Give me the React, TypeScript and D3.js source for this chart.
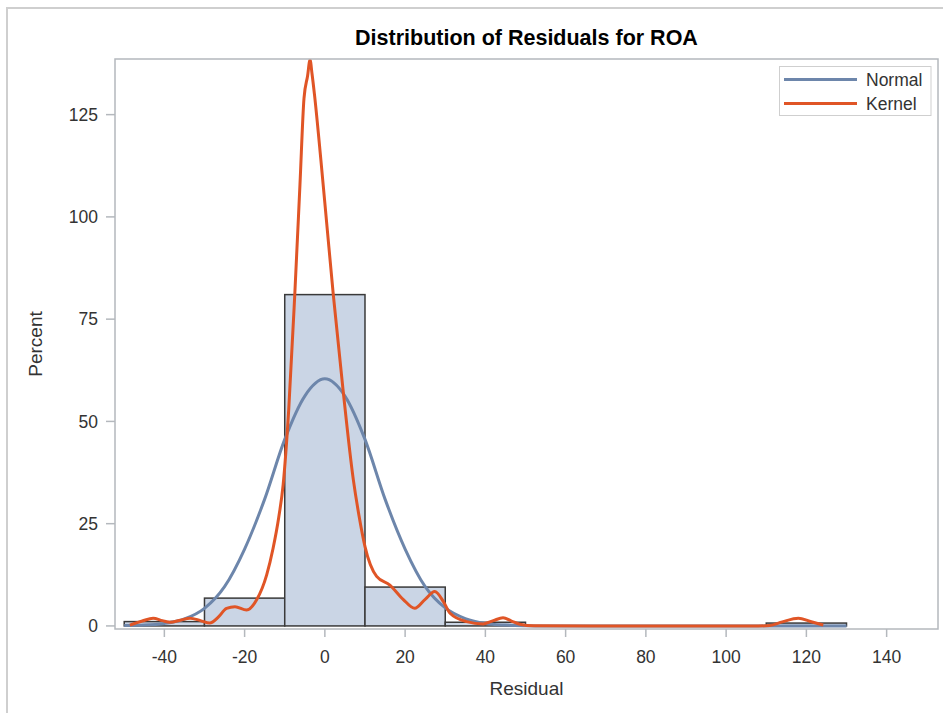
import React from "react";
import * as d3 from "d3";

// --- Data ---
const BIN_START = [-50, -30, -10, 10, 30, 110];
const BIN_WIDTH = 20;
const BIN_PERCENT = [1.06, 6.8, 81.0, 9.5, 0.9, 0.7];

const NORMAL_X = [-50, -45, -40, -35, -30, -25, -20, -15, -10, -5, 0, 5, 10, 15, 20, 25, 30, 35, 40, 45, 50, 55, 130];
const NORMAL_Y = [0.1, 0.2, 0.6, 1.7, 4.3, 9.6, 18.8, 31.0, 45.6, 56.2, 60.4, 56.2, 45.6, 31.0, 18.8, 9.6, 4.4, 1.8, 0.6, 0.2, 0.05, 0, 0];

const KERNEL_X = [-48.6, -45.5, -42.8, -40.5, -38.6, -36, -33.6, -31, -28.7, -26.5, -24.5, -22.4, -19.5, -17, -14.5, -12.9, -11.5, -10.4, -9, -7.5, -6.2, -5.2, -4.3, -3.7, -3.2, -2.6, -1, 0.5, 2.1, 4.5, 7.1, 8.5, 10, 12.9, 16.2, 19.5, 22.4, 25, 27.4, 29.5, 31.2, 35.3, 39.5, 42, 44.4, 46.5, 48.6, 52, 80, 108, 110.9, 114, 118, 121, 124.2];
const KERNEL_Y = [0.2, 1.2, 1.9, 1.3, 0.9, 1.4, 1.9, 1.3, 0.7, 2.2, 4.3, 4.7, 3.9, 6.4, 12.5, 19.0, 26.5, 34.5, 53, 81, 108, 129, 134.5, 138.4, 135, 130, 114, 98, 81, 58, 35.7, 27, 19.4, 12.1, 10, 6.5, 4.3, 6.5, 8.4, 6, 3.1, 1.05, 0.5, 1.3, 2.0, 1.2, 0.4, 0.02, 0, 0, 0.1, 1.0, 1.9, 1.1, 0.2];

const X_TICKS = [-40, -20, 0, 20, 40, 60, 80, 100, 120, 140];
const Y_TICKS = [0, 25, 50, 75, 100, 125];

const TITLE = "Distribution of Residuals for ROA";
const SERIES = ["Normal", "Kernel"];

// --- Layout ---
const W = 943;
const H = 713;
const LEFT = 115;
const RIGHT = 938;
const TOP = 59;
const BOTTOM = 629;
const FONT = "'Liberation Sans', Arial, sans-serif";
const AXIS_COLOR = "#b4b8bd";
const TEXT_COLOR = "#333";
const NORMAL_COLOR = "#6d86ab";
const KERNEL_COLOR = "#e05526";

export default function App() {
  const x = d3.scaleLinear().domain([-52.3, 152.8]).range([LEFT, RIGHT]);
  const y = d3.scaleLinear().domain([-0.75, 138.6]).range([BOTTOM, TOP]);

  const normalLine = d3
    .line<number>()
    .x((d, i) => x(NORMAL_X[i]))
    .y((d) => y(d))
    .curve(d3.curveMonotoneX);

  const kernelLine = d3
    .line<number>()
    .x((d, i) => x(KERNEL_X[i]))
    .y((d) => y(d))
    .curve(d3.curveMonotoneX);

  const colors = [NORMAL_COLOR, KERNEL_COLOR];

  return (
    <div style={{ position: "absolute", left: 0, top: 0 }}>
      <svg width={W} height={H} style={{ display: "block", background: "#fff" }}>
        {/* outer frame */}
        <rect x={7} y={8} width={W} height={H} fill="none" stroke="#cfcfcf" strokeWidth={2} />

        <text
          x={(LEFT + RIGHT) / 2}
          y={45}
          textAnchor="middle"
          fontFamily={FONT}
          fontWeight="bold"
          fontSize={21.5}
          fill="#000"
        >
          {TITLE}
        </text>

        <defs>
          <clipPath id="plot-clip">
            <rect x={LEFT} y={TOP} width={RIGHT - LEFT} height={BOTTOM - TOP} />
          </clipPath>
        </defs>

        {/* histogram */}
        <g>
          {BIN_START.map((b, i) => (
            <rect
              key={b}
              x={x(b)}
              y={y(BIN_PERCENT[i])}
              width={x(b + BIN_WIDTH) - x(b)}
              height={y(0) - y(BIN_PERCENT[i])}
              fill="#cad5e5"
              stroke="#3a3a3a"
              strokeWidth={1.5}
            />
          ))}
        </g>

        <g clipPath="url(#plot-clip)">
          <path d={normalLine(NORMAL_Y) || ""} fill="none" stroke={NORMAL_COLOR} strokeWidth={3} strokeLinejoin="round" />
          <path d={kernelLine(KERNEL_Y) || ""} fill="none" stroke={KERNEL_COLOR} strokeWidth={3} strokeLinejoin="round" />
        </g>

        {/* plot frame */}
        <rect x={LEFT} y={TOP} width={RIGHT - LEFT} height={BOTTOM - TOP} fill="none" stroke={AXIS_COLOR} strokeWidth={1.5} />

        {/* x axis */}
        <g fontFamily={FONT} fontSize={17.5} fill={TEXT_COLOR}>
          {X_TICKS.map((t) => (
            <g key={t}>
              <line x1={x(t)} x2={x(t)} y1={BOTTOM} y2={BOTTOM + 8} stroke={AXIS_COLOR} strokeWidth={1.5} />
              <text x={x(t)} y={663} textAnchor="middle">
                {t}
              </text>
            </g>
          ))}
        </g>
        <text x={(LEFT + RIGHT) / 2} y={695} textAnchor="middle" fontFamily={FONT} fontSize={19} fill={TEXT_COLOR}>
          Residual
        </text>

        {/* y axis */}
        <g fontFamily={FONT} fontSize={17.5} fill={TEXT_COLOR}>
          {Y_TICKS.map((t) => (
            <g key={t}>
              <line x1={LEFT - 9} x2={LEFT} y1={y(t)} y2={y(t)} stroke={AXIS_COLOR} strokeWidth={1.5} />
              <text x={98} y={y(t)} dy="0.36em" textAnchor="end">
                {t}
              </text>
            </g>
          ))}
        </g>
        <text
          transform={`translate(41.5, ${(TOP + BOTTOM) / 2}) rotate(-90)`}
          textAnchor="middle"
          fontFamily={FONT}
          fontSize={19}
          fill={TEXT_COLOR}
        >
          Percent
        </text>

        {/* legend */}
        <g fontFamily={FONT} fontSize={17.5} fill={TEXT_COLOR}>
          <rect x={779.5} y={66.5} width={151.5} height={49} fill="#fff" stroke="#cfcfcf" strokeWidth={1} />
          {SERIES.map((s, i) => (
            <g key={s} transform={`translate(0, ${79.5 + i * 24})`}>
              <line x1={784} x2={857} y1={0} y2={0} stroke={colors[i]} strokeWidth={3} />
              <text x={866} y={0} dy="0.36em">
                {s}
              </text>
            </g>
          ))}
        </g>
      </svg>
    </div>
  );
}
